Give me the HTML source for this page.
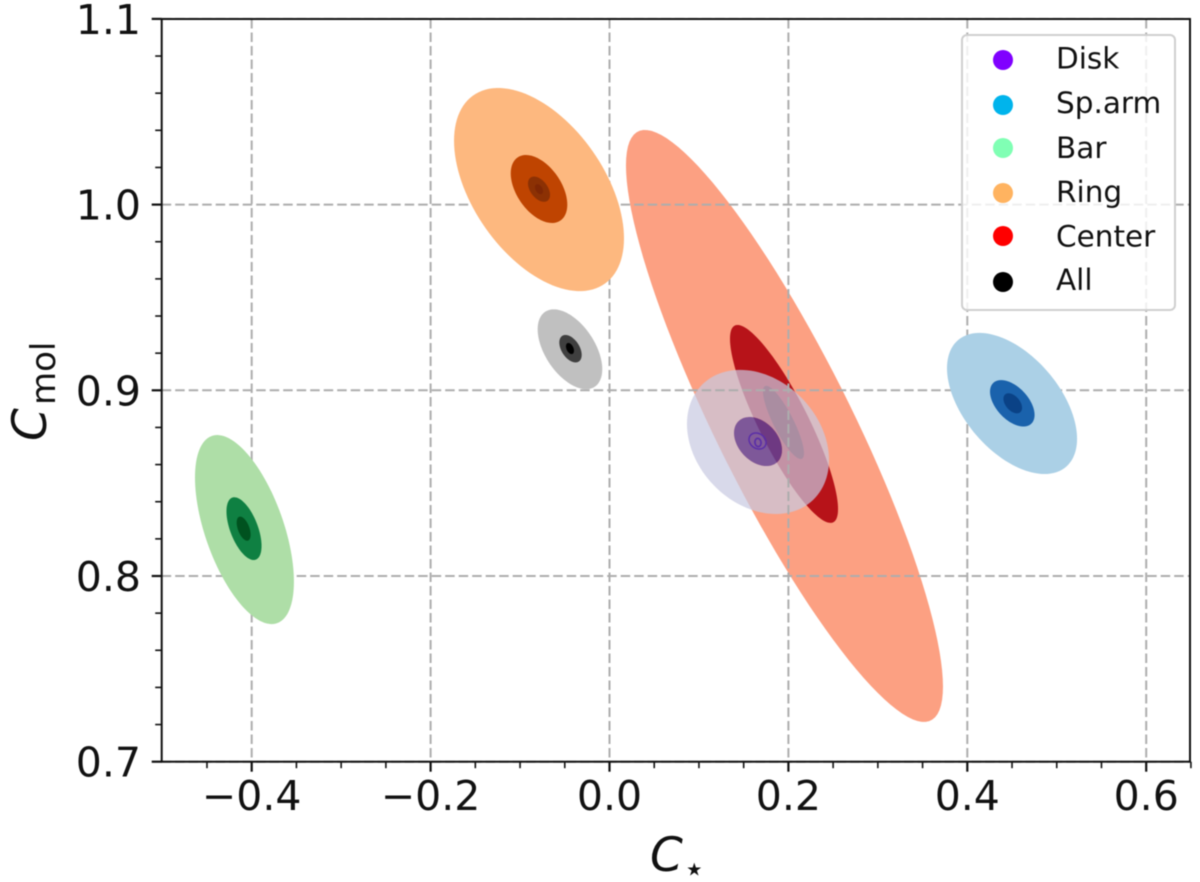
<!DOCTYPE html>
<html lang="en">
<head>
<meta charset="utf-8">
<title>C_star vs C_mol contours</title>
<style>
html,body{margin:0;padding:0;background:#fff;width:1200px;height:882px;overflow:hidden}
svg{display:block;filter:blur(0.4px)}
text{font-family:"DejaVu Sans","Liberation Sans",sans-serif;fill:#111}
</style>
</head>
<body>
<svg id="chart" xmlns="http://www.w3.org/2000/svg" width="1200" height="882" viewBox="0 0 1200 882"></svg>
<script>
// ---- chart data (all in data units) ----
const xTickValues = [-0.4, -0.2, 0.0, 0.2, 0.4, 0.6];
const xTickLabels = ['\u22120.4', '\u22120.2', '0.0', '0.2', '0.4', '0.6'];
const yTickValues = [0.7, 0.8, 0.9, 1.0, 1.1];
const yTickLabels = ['0.7', '0.8', '0.9', '1.0', '1.1'];
const xMinorValues = [-0.45, -0.35, -0.3, -0.25, -0.15, -0.1, -0.05, 0.05, 0.1, 0.15, 0.25, 0.3, 0.35, 0.45, 0.5, 0.55, 0.65];
const yMinorValues = [0.72, 0.74, 0.76, 0.78, 0.82, 0.84, 0.86, 0.88, 0.92, 0.94, 0.96, 0.98, 1.02, 1.04, 1.06, 1.08];
const legendNames = ['Disk', 'Sp.arm', 'Bar', 'Ring', 'Center', 'All'];

const contourSeries = ['Center','Center','Center','Disk','Disk','Disk','Disk','Sp.arm','Sp.arm','Sp.arm','Bar','Bar','Bar','Ring','Ring','Ring','Ring','All','All','All'];
const contourLevel  = [0,1,2,0,1,2,3,0,1,2,0,1,2,0,1,2,3,0,1,2];
const contourCx     = [0.1956,0.1951,0.1945,0.1660,0.1660,0.1655,0.1660,0.4500,0.4503,0.4508,-0.4081,-0.4086,-0.4090,-0.0788,-0.0788,-0.0788,-0.0788,-0.0442,-0.0436,-0.0442];
const contourCy     = [0.8808,0.8819,0.8827,0.8722,0.8724,0.8727,0.8719,0.8929,0.8930,0.8930,0.8250,0.8255,0.8255,1.0081,1.0084,1.0083,1.0083,0.9221,0.9224,0.9225];
const contourHalfX  = [0.1772,0.0604,0.0229,0.0794,0.0268,0.0095,0.0034,0.0727,0.0249,0.0104,0.0553,0.0196,0.0078,0.0950,0.0316,0.0123,0.0045,0.0361,0.0125,0.0045];
const contourHalfY  = [0.1594,0.0533,0.0197,0.0388,0.0132,0.0043,0.0022,0.0380,0.0125,0.0054,0.0509,0.0169,0.0065,0.0547,0.0183,0.0068,0.0027,0.0215,0.0074,0.0030];
const contourRho    = [-0.88,-0.86,-0.84,-0.25,-0.35,-0.20,-0.10,-0.50,-0.50,-0.45,-0.55,-0.55,-0.50,-0.48,-0.46,-0.45,-0.40,-0.50,-0.45,-0.40];

// ---- axis functions ----
const xScale = v => 609.5 + v * 894.5;
const yScale = v => 761.7 - (v - 0.7) * 1857;
const plotLeft = 161.7, plotRight = 1190, plotTop = 19, plotBottom = 761.7;

// ---- styling ----
const levelFills = {
  'Center': ['#fca082', '#b71319', '#67000d'],
  'Disk': ['rgba(199,201,225,0.7)', 'rgba(90,68,160,0.78)', 'rgba(90,68,160,0.75)', 'rgba(90,68,160,0.75)'],
  'Sp.arm': ['#abd0e6', '#1a62ac', '#0a4286'],
  'Bar': ['#aedea7', '#0f8042', '#00521f'],
  'Ring': ['#fdb87f', '#bf4401', '#8c3104', '#7f2704'],
  'All': ['#c0c0c0', '#3f3f3f', '#000000']
};
const legendColors = ['#8000ff', '#00b4ec', '#80ffb4', '#ffb360', '#ff0000', '#000000'];
const legendMarkerY = [60, 105, 148, 193, 236, 282];
const legendTextY = [68.5, 113, 158, 202, 246.5, 290];

const NS = 'http://www.w3.org/2000/svg';
const svg = document.getElementById('chart');
function make(tag, attrs, parent) {
  const el = document.createElementNS(NS, tag);
  for (const k in attrs) el.setAttribute(k, attrs[k]);
  (parent || svg).appendChild(el);
  return el;
}
function ellipsePath(i) {
  let d = '';
  const steps = 120;
  for (let s = 0; s < steps; s++) {
    const t = s / steps * 2 * Math.PI;
    const r = contourRho[i];
    const vx = contourCx[i] + contourHalfX[i] * Math.cos(t);
    const vy = contourCy[i] + contourHalfY[i] * (r * Math.cos(t) + Math.sqrt(1 - r * r) * Math.sin(t));
    d += (s ? 'L' : 'M') + xScale(vx).toFixed(2) + ' ' + yScale(vy).toFixed(2);
  }
  return d + 'Z';
}
function drawSeries(name) {
  const g = make('g', {});
  
  
  const idx = [];
  contourSeries.forEach((s, i) => { if (s === name) idx.push(i); });
  idx.forEach((i, n) => {
    const level = contourLevel[i];
    let d = ellipsePath(i);
    if (name === 'Disk' && n + 1 < idx.length) d += ellipsePath(idx[n + 1]);
    const attrs = { d: d, fill: levelFills[name][level], 'fill-rule': 'evenodd' };
    if (name === 'Disk' && level >= 2) {
      attrs.stroke = '#5a2da8';
      attrs['stroke-width'] = 1.5;
    }
    const p = make('path', attrs, g);
    
    
  });
}

// Center and Disk sit beneath the grid
drawSeries('Center');
drawSeries('Disk');

// grid
const gridGroup = make('g', { stroke: '#adadad', 'stroke-width': 2, 'stroke-dasharray': '9.5 4', fill: 'none' });


xTickValues.forEach(v => {
  const l = make('line', { x1: xScale(v), x2: xScale(v), y1: plotTop, y2: plotBottom }, gridGroup);
  
  
});
yTickValues.forEach(v => {
  const l = make('line', { x1: plotLeft, x2: plotRight, y1: yScale(v), y2: yScale(v) }, gridGroup);
  
  
});

// the other series cover the grid
drawSeries('Sp.arm');
drawSeries('Bar');
drawSeries('Ring');
drawSeries('All');

// ticks
const tickGroup = make('g', { stroke: '#111', fill: 'none' });


xTickValues.forEach(v => {
  const l = make('line', { x1: xScale(v), x2: xScale(v), y1: plotBottom, y2: plotBottom + 10, 'stroke-width': 2.2 }, tickGroup);
  
  
});
xMinorValues.forEach(v => {
  const l = make('line', { x1: xScale(v), x2: xScale(v), y1: plotBottom, y2: plotBottom + 6.5, 'stroke-width': 1.6 }, tickGroup);
  
  
});
yTickValues.forEach(v => {
  const l = make('line', { x1: plotLeft - 10, x2: plotLeft, y1: yScale(v), y2: yScale(v), 'stroke-width': 2.2 }, tickGroup);
  
  
});
yMinorValues.forEach(v => {
  const l = make('line', { x1: plotLeft - 6.5, x2: plotLeft, y1: yScale(v), y2: yScale(v), 'stroke-width': 1.6 }, tickGroup);
  
  
});

// spines
const spine = make('rect', { x: plotLeft, y: plotTop, width: plotRight - plotLeft, height: plotBottom - plotTop, fill: 'none', stroke: '#111', 'stroke-width': 2 });



// tick labels
xTickValues.forEach((v, i) => {
  const t = make('text', { x: xScale(v), y: 810, 'text-anchor': 'middle', 'font-size': 41 });
  t.textContent = xTickLabels[i];
  
  
});
yTickValues.forEach((v, i) => {
  const t = make('text', { x: 141, y: yScale(v) + 15, 'text-anchor': 'end', 'font-size': 41 });
  t.textContent = yTickLabels[i];
  
  
});

// axis titles
const xTitle = make('g', {});


make('text', { x: 650, y: 871, 'font-size': 47, 'font-style': 'italic' }, xTitle).textContent = 'C';
make('text', { x: 683, y: 881, 'font-size': 36 }, xTitle).textContent = '\u22C6';

const yTitle = make('g', {});


make('text', { x: 46, y: 441, 'font-size': 47, 'font-style': 'italic', transform: 'rotate(-90 46 441)' }, yTitle).textContent = 'C';
make('text', { x: 55, y: 405, 'font-size': 34, transform: 'rotate(-90 55 405)' }, yTitle).textContent = 'mol';

// legend
const legend = make('g', {});


const frame = make('rect', { x: 962, y: 35, width: 213, height: 275, rx: 5, ry: 5, fill: 'rgba(255,255,255,0.8)', stroke: '#cfcfcf', 'stroke-width': 2 }, legend);


legendNames.forEach((name, i) => {
  const entry = make('g', {}, legend);
  
  
  make('circle', { cx: 1003, cy: legendMarkerY[i], r: 10, fill: legendColors[i] }, entry);
  make('text', { x: 1056, y: legendTextY[i], 'font-size': 29.5 }, entry).textContent = name;
});
</script>
</body>
</html>
